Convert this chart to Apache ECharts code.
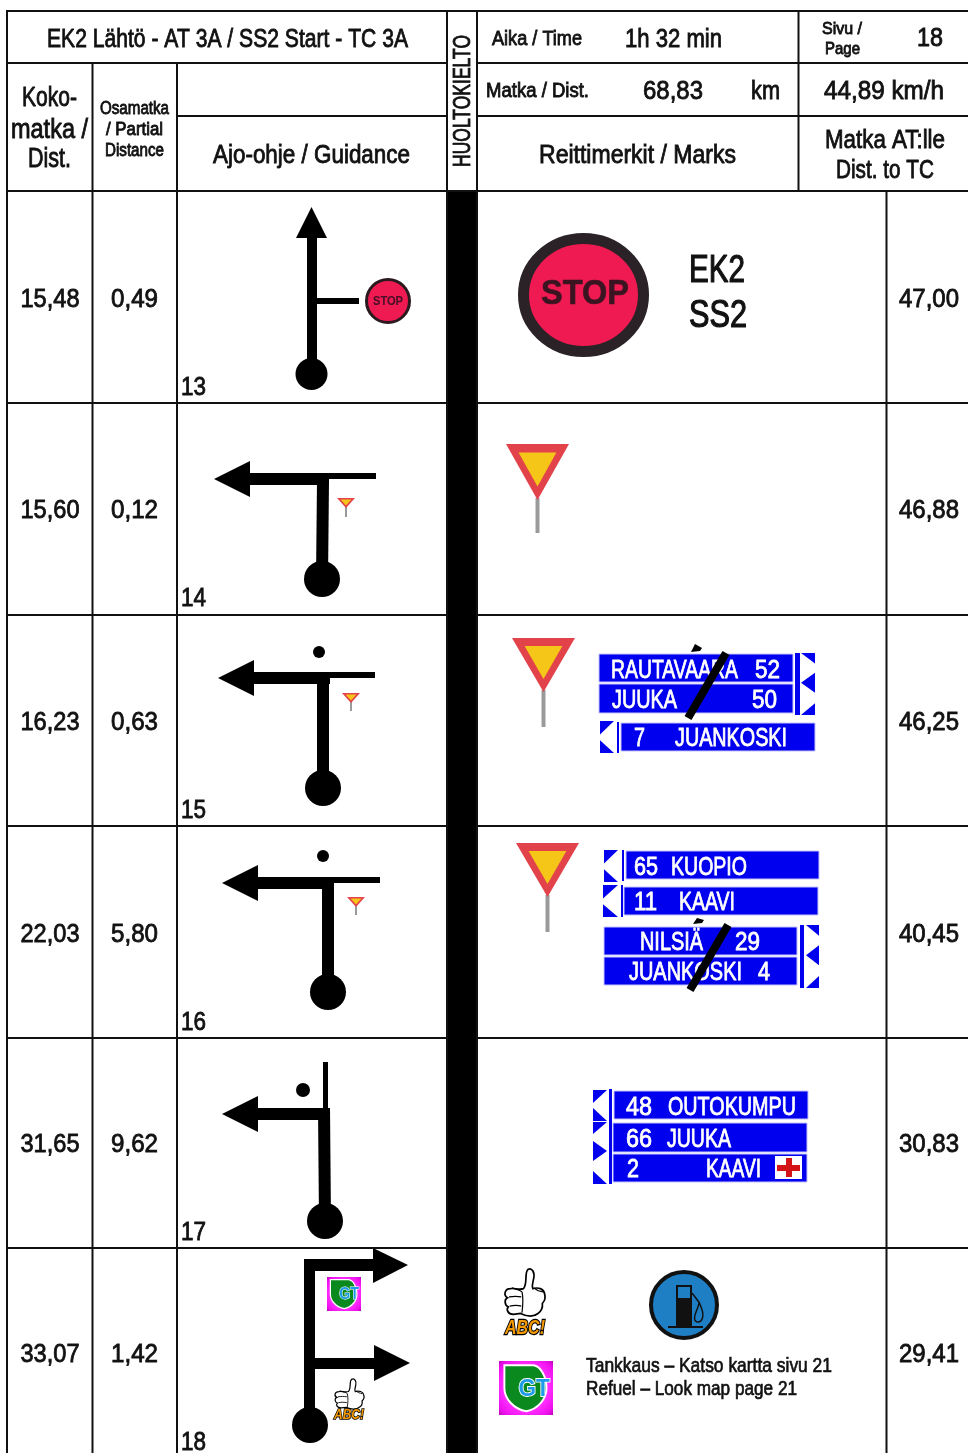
<!DOCTYPE html>
<html><head><meta charset="utf-8">
<style>html,body{margin:0;padding:0;background:#fff}#c{width:968px;height:1453px}</style>
<script src="https://cdn.jsdelivr.net/npm/echarts@6/dist/echarts.min.js"></script>
</head><body><div id="c"></div>
<script>
// ---------- DATA ----------
const rowNumbers  = [13, 14, 15, 16, 17, 18];
const totalDist   = [15.48, 15.60, 16.23, 22.03, 31.65, 33.07];
const partialDist = [0.49, 0.12, 0.63, 5.80, 9.62, 1.42];
const distToTC    = [47.00, 46.88, 46.25, 40.45, 30.83, 29.41];
const headerLabels = ['EK2 Lähtö - AT 3A / SS2 Start - TC 3A','Aika / Time','1h 32 min','Sivu /','Page','18',
  'Matka / Dist.','68,83','km','44,89 km/h','Koko-','matka /','Dist.','Osamatka','/ Partial','Distance',
  'Ajo-ohje / Guidance','Reittimerkit / Marks','Matka AT:lle','Dist. to TC'];
const sideLabel = 'HUOLTOKIELTO';
const stageLabels = ['EK2','SS2'];
const refuelLabels = ['Tankkaus – Katso kartta sivu 21','Refuel – Look map page 21'];
const signLabels = ['RAUTAVAARA','52','JUUKA','50','7','JUANKOSKI','65','KUOPIO','11','KAAVI','NILSIÄ','29','JUANKOSKI','4',
  '48','OUTOKUMPU','66','JUUKA','2','KAAVI'];

// ---------- LAYOUT (separate from the data) ----------
const headerBoxes = [[47,408,38,26],[492,582,38,20],[625,722,38,26],[822,862,28,17],[825,860,48,17],[917,943,37,26],
  [486,589,90,20],[643,703,90,26],[751,780,90,26],[824,944,90,26],[22,77,97,27],[11,88,129,27],[28,71,158,27],
  [100,169,107,18],[106,163,128,18],[105,164,149,18],[213,410,154,26],[539,736,154,26],[825,945,139,26],[836,934,169,26]];
const signBoxes = [[611,738,669],[755,780,669],[612,677,699],[752,777,699],[634,645,737],[675,787,737],
  [634,658,866],[671,747,866],[634,657,901],[679,735,901],[640,703,941],[735,760,941],[629,742,971],[758,770,971],
  [626,652,1106],[668,796,1106],[626,652,1138],[667,731,1138],[627,639,1168],[706,761,1168]];
const rowCenters = [298,509,721,933,1143,1353];
const rowNumberY = [386,597,809,1021,1231,1441];
const rules = [[7,11,968,11],[7,63,447,63],[477,63,968,63],[177,116,447,116],[477,116,968,116],[7,191,968,191],
  [7,403,447,403],[477,403,968,403],[7,615,447,615],[477,615,968,615],[7,826,447,826],[477,826,968,826],
  [7,1038,447,1038],[477,1038,968,1038],[7,1248,447,1248],[477,1248,968,1248],
  [7,10,7,1453],[92.5,63,92.5,1453],[177,63,177,1453],[447,10,447,1453],[477,10,477,1453],[798.5,11,798.5,191],[886.5,191,886.5,1453]];

const FONT = '"Liberation Sans Narrow","Liberation Sans",sans-serif';
const WIDE = '"Liberation Sans",sans-serif';
const INK = '#111', BLUE = '#0000ee';
const mctx = document.createElement('canvas').getContext('2d');
function measure(s, font){ mctx.font = font; return mctx.measureText(s).width; }
function textEl(p, s, x0, x1, yc, size, o){
  o = o||{};
  const q = p(x0, yc+(o.dy==null?1.8:o.dy)), q2 = p(x1, yc);
  const font=(o.weight||'normal')+' '+size+'px '+(o.family||FONT);
  return {type:'text', x:q[0], y:q[1], scaleX:(q2[0]-q[0])/measure(s,font), silent:true,
    style:{text:s, x:0, y:0, font, fill:o.fill||INK,
      stroke:o.fill||INK, lineWidth:o.lw==null?0.85:o.lw, align:'left', verticalAlign:'middle'}};
}
const poly=(p,pts,fill)=>({type:'polygon',silent:true,shape:{points:pts.map(a=>p(a[0],a[1]))},style:{fill}});
const rect=(p,x0,y0,x1,y1,fill)=>{const a=p(x0,y0),b=p(x1,y1);return {type:'rect',silent:true,shape:{x:a[0],y:a[1],width:b[0]-a[0],height:b[1]-a[1]},style:{fill}};};
const panel=(p,x0,y0,x1,y1)=>{const r=rect(p,x0,y0,x1,y1,BLUE);r.style.stroke='#c4c4ff';r.style.lineWidth=1;return r;};
const line=(p,x0,y0,x1,y1,w,col)=>{const a=p(x0,y0),b=p(x1,y1);return {type:'line',silent:true,shape:{x1:a[0],y1:a[1],x2:b[0],y2:b[1]},style:{stroke:col||'#000',lineWidth:w}};};
const circ=(p,x,y,r,fill,stroke,lw)=>{const a=p(x,y);return {type:'circle',silent:true,shape:{cx:a[0],cy:a[1],r},style:{fill,stroke:stroke||null,lineWidth:lw||0}};};
const ell=(p,x,y,rx,ry,fill,stroke,lw)=>{const a=p(x,y);return {type:'ellipse',silent:true,shape:{cx:a[0],cy:a[1],rx,ry},style:{fill,stroke,lineWidth:lw}};};
const pathEl=(p,d,x0,y0,x1,y1,style)=>{const a=p(x0,y0),b=p(x1,y1);return {type:'path',silent:true,shape:{pathData:d,x:a[0],y:a[1],width:b[0]-a[0],height:b[1]-a[1],layout:'cover'},style};};

function yieldSign(p,x0,x1,top,tip,postEnd,postW){
  const w=x1-x0,c=(x0+x1)/2,h=tip-top,out=[],pw=(postW||4)/2;
  if(postEnd) out.push(rect(p,c-pw,tip-2,c+pw,postEnd,'#9a9a9a'));
  out.push(poly(p,[[x0,top],[x1,top],[c,tip]],'#e2434b'));
  out.push(poly(p,[[x0+w*.2,top+h*.15],[x1-w*.2,top+h*.15],[c,top+h*.76]],'#f5c518'));
  return out;
}
function thumb(p,x0,y0,x1,y1){
  const d='M58 50C70 38 60 12 70 4C82 -2 90 12 86 26C84 36 80 44 84 50C98 46 114 50 116 62C120 72 114 82 110 86C112 96 106 106 98 110C84 120 64 116 50 110L30 112C14 112 10 100 16 94C6 90 4 76 14 72C2 66 6 50 22 50C34 48 46 54 58 50Z';
  const f='M14 72C26 70 38 70 48 72M16 94C28 92 38 92 48 94M22 50C34 54 44 54 50 60M84 50C90 56 96 58 108 60M50 60C54 76 52 96 50 110';
  const w=x1-x0,h=y1-y0,s=w/40;
  return [pathEl(p,d,x0,y0,x1,y1,{fill:'#fff',stroke:'#000',lineWidth:1.7*Math.min(s,1)}),
          pathEl(p,f,x0+w*.1,y0+h*.4,x1-w*.05,y0+h*.93,{fill:null,stroke:'#000',lineWidth:1.2*Math.min(s,1)})];
}
function abc(p,x0,x1,yc,size){
  const q=p(x0,yc),font='italic bold '+size+'px '+FONT;
  return {type:'text',x:q[0],y:q[1],silent:true,scaleX:(x1-x0)/measure('ABC!',font),
    style:{text:'ABC!',x:0,y:0,font,fill:'#f59a00',stroke:'#000',lineWidth:size/9,align:'left',verticalAlign:'middle'}};
}
function gtLogo(p,x0,y0,s){
  const a=p(x0,y0),out=[];
  out.push({type:'rect',silent:true,shape:{x:a[0],y:a[1],width:s,height:s},style:{fill:{type:'radial',x:.5,y:.5,r:.75,colorStops:[{offset:0,color:'#ffffff'},{offset:.55,color:'#ff30ff'},{offset:.8,color:'#ee10ee'},{offset:1,color:'#b000a8'}]}}});
  out.push(pathEl(p,'M0 0H58C72 2 84 22 84 46C84 68 66 88 44 92C18 88 0 66 0 46Z',x0+.1*s,y0+.08*s,x0+.88*s,y0+.93*s,{fill:'#0a8a1e',stroke:'#fff',lineWidth:s/28}));
  const font='bold '+(s*.46)+'px '+WIDE,q=p(x0+.36*s,y0+.52*s);
  out.push({type:'text',x:q[0],y:q[1],silent:true,scaleX:(.58*s)/measure('GT',font),
    style:{text:'GT',x:0,y:0,font,fill:'#1e9be8',stroke:'#fff',lineWidth:s/30,align:'left',verticalAlign:'middle'}});
  return out;
}
function stripLeft(p,x0,x1,y0,y1,col){return [poly(p,[[x0,y0],[x1,y0],[x0,y0+(y1-y0)*.42]],col),poly(p,[[x0,y0+(y1-y0)*.6],[x1,y1],[x0,y1]],col)];}
function stripRight3(p,x0,x1,y0,y1,col){const h=y1-y0;return [poly(p,[[x0,y0],[x1,y0],[x1,y0+h*.17]],col),poly(p,[[x0,y0+h*.48],[x1,y0+h*.32],[x1,y0+h*.64]],col),poly(p,[[x0,y1],[x1,y0+h*.81],[x1,y1]],col)];}

// ---------- drawing per layer ----------
function drawRules(p){ return rules.map(r=>line(p,r[0],r[1],r[2],r[3],2,'#111')); }
function drawHeader(p){
  const out=[rect(p,447,191,477,1453,'#000')];
  headerLabels.forEach((s,i)=>{const b=headerBoxes[i];out.push(textEl(p,s,b[0],b[1],b[2],b[3]));});
  const q=p(464,167),font='23px '+FONT;
  out.push({type:'text',x:q[0],y:q[1],rotation:Math.PI/2,scaleX:132/measure(sideLabel,font),silent:true,
    style:{text:sideLabel,x:0,y:0,font,fill:INK,stroke:INK,lineWidth:.85,align:'left',verticalAlign:'middle'}});
  return out;
}
function drawGuidance(p){
  const o=[];
  // 13
  o.push(rect(p,307,236,317,375,'#000'),poly(p,[[311.5,207],[296,238],[327,238]],'#000'),circ(p,311.5,374,16,'#000'),rect(p,316,298,359,304,'#000'));
  o.push(circ(p,388,301,21.5,'#ee1a51','#2a1a20',3));
  o.push(textEl(p,'STOP',373,403,301,12,{fill:'#4a0f28',lw:.1,weight:'bold',family:WIDE,dy:.5}));
  // 14
  o.push(poly(p,[[214,479],[250,461],[250,497]],'#000'),rect(p,249,473,329,485,'#000'),rect(p,327,473,376,479,'#000'));
  o.push(poly(p,[[317,480],[329,480],[328,580],[316,580]],'#000'),circ(p,322,579,18,'#000'));
  o.push(...yieldSign(p,337,355,498,508,517,2));
  // 15
  o.push(poly(p,[[218,678],[254,660],[254,696]],'#000'),rect(p,253,672,330,684,'#000'),rect(p,328,672,375,678,'#000'));
  o.push(rect(p,317,673,329,790,'#000'),circ(p,323,788,18,'#000'),circ(p,319,652,6,'#000'));
  o.push(...yieldSign(p,342,360,693,703,711,2));
  // 16
  o.push(poly(p,[[222,883],[258,865],[258,901]],'#000'),rect(p,257,877,334,889,'#000'),rect(p,332,877,380,883,'#000'));
  o.push(rect(p,322,878,334,994,'#000'),circ(p,328,992,18,'#000'),circ(p,323,856,6,'#000'));
  o.push(...yieldSign(p,347,365,897,907,915,2));
  // 17
  o.push(poly(p,[[222,1114],[258,1096],[258,1132]],'#000'),rect(p,257,1108,330,1120,'#000'),rect(p,323,1062,328,1110,'#000'));
  o.push(poly(p,[[318,1108],[330,1108],[331,1222],[319,1222]],'#000'),circ(p,325,1221,18,'#000'),circ(p,303,1090,7,'#000'));
  // 18
  o.push(rect(p,304,1259,315,1425,'#000'),rect(p,304,1259,374,1271,'#000'),poly(p,[[373,1248],[408,1265],[373,1283]],'#000'));
  o.push(rect(p,314,1358,375,1369,'#000'),poly(p,[[374,1345],[410,1363],[374,1381]],'#000'),circ(p,310,1425,18,'#000'));
  o.push(...gtLogo(p,327,1277,34));
  o.push(...thumb(p,335,1379,364,1409),abc(p,334,364,1414.5,15));
  return o;
}
function drawSigns(p){
  const o=[],c=BLUE;
  // stop sign and stage label
  o.push(ell(p,583.5,295,60,56.5,'#ee1a51','#2a2226',11));
  o.push(textEl(p,'STOP',541,629,294,35,{fill:'#3a1420',lw:.6,weight:'bold',family:WIDE,dy:.5}));
  o.push(textEl(p,stageLabels[0],689,745,270,38,{lw:1.2}));
  o.push(textEl(p,stageLabels[1],689,747,315,38,{lw:1.2}));
  // yields
  o.push(...yieldSign(p,506,569,444,500,533),...yieldSign(p,512,575,638,692,727),...yieldSign(p,516,579,843,897,932));
  // row 15 panels
  o.push(panel(p,599,654,793,682),panel(p,599,684,793,713),rect(p,795,653,800,715,c),...stripRight3(p,801,815,653,715,c));
  o.push(panel(p,621,723,815,751),rect(p,617,722,619,753,c),...stripLeft(p,600,614,721,753,c));
  // row 16 panels
  o.push(panel(p,626,851,819,879),rect(p,622,850,624,881,c),...stripLeft(p,604,618,850,882,c));
  o.push(panel(p,624,887,818,915),rect(p,621,885,623,917,c),...stripLeft(p,603,618,885,917,c));
  o.push(panel(p,604,927,797,955),panel(p,604,957,797,985),rect(p,800,925,804,988,c),...stripRight3(p,806,819,925,988,c));
  // row 17 panels
  o.push(panel(p,614,1091,808,1119),panel(p,613,1123,807,1152),panel(p,613,1154,807,1182),rect(p,609,1089,612,1184,c));
  o.push(poly(p,[[593,1090],[607,1090],[593,1103]],c),poly(p,[[593,1108],[607,1121],[593,1121]],c),poly(p,[[593,1122],[607,1122],[593,1134]],c),poly(p,[[593,1141],[607,1151],[593,1161]],c),poly(p,[[593,1171],[607,1184],[593,1184]],c));
  o.push(rect(p,775,1156,802,1179,'#fff'),rect(p,777,1165,800,1171,'#d3151a'),rect(p,786,1158,792,1177,'#d3151a'));
  // text in panels
  signLabels.forEach((s,i)=>{const b=signBoxes[i];o.push(textEl(p,s,b[0],b[1],b[2],25,{fill:'#fff',lw:.8}));});
  // strike-throughs
  o.push(line(p,726,653,688,718,8),poly(p,[[691,652],[695,644],[702,648],[700,651]],'#000'));
  o.push(line(p,728,925,690,990,8),poly(p,[[693,924],[697,918],[704,920],[702,923]],'#000'));
  // row 18 icons
  o.push(...thumb(p,505,1269,545,1316),abc(p,505,545,1328,21));
  o.push(...gtLogo(p,499,1361,54));
  o.push(circ(p,684,1305,33,'#1f7fc4','#111',4));
  o.push(rect(p,676,1285,692,1327,'#111'),rect(p,678,1287,690,1298,'#1f7fc4'),rect(p,668,1326,703,1328,'#111'));
  o.push(pathEl(p,'M0 0L8 14C10 20 14 30 12 38C10 46 4 46 3 40C2 32 8 22 8 14',692,1293,703,1322,{fill:null,stroke:'#111',lineWidth:1.5}));
  o.push(textEl(p,refuelLabels[0],586,832,1364,21,{lw:.7}),textEl(p,refuelLabels[1],586,797,1387,21,{lw:.7}));
  return o;
}
function pointFn(api){ return (x,y)=>api.coord([x,y]); }
function layer(name,fn){
  return {type:'custom',name,coordinateSystem:'cartesian2d',silent:true,clip:false,animation:false,data:[[0,0]],
    renderItem:(params,api)=>({type:'group',children:fn(pointFn(api))})};
}
const fmt=v=>v.toFixed(2).replace('.',',');
const rowsSeries={type:'custom',name:'rows',coordinateSystem:'cartesian2d',silent:true,clip:false,animation:false,
  data:rowNumbers.map((n,i)=>[n,totalDist[i],partialDist[i],distToTC[i]]),
  encode:{x:0,y:1},
  renderItem:(params,api)=>{
    const i=params.dataIndex,p=pointFn(api),y=rowCenters[i];
    const a=fmt(api.value(1)),b=fmt(api.value(2)),c=fmt(api.value(3)),n=String(api.value(0));
    return {type:'group',children:[
      textEl(p,a,20.5,79.5,y,26),textEl(p,b,111,158,y,26),textEl(p,c,899,959,y,26),textEl(p,n,181,206,rowNumberY[i],26)]};
  }};
const chart=echarts.init(document.getElementById('c'),null,{renderer:'canvas'});
chart.setOption({
  animation:false,backgroundColor:'#fff',
  grid:{left:0,right:0,top:0,bottom:0},
  xAxis:{type:'value',min:0,max:968,show:false},
  yAxis:{type:'value',min:0,max:1453,inverse:true,show:false},
  tooltip:{show:false},
  series:[layer('signs',drawSigns),layer('guidance',drawGuidance),layer('header',drawHeader),layer('rules',drawRules),rowsSeries]
});
</script></body></html>
